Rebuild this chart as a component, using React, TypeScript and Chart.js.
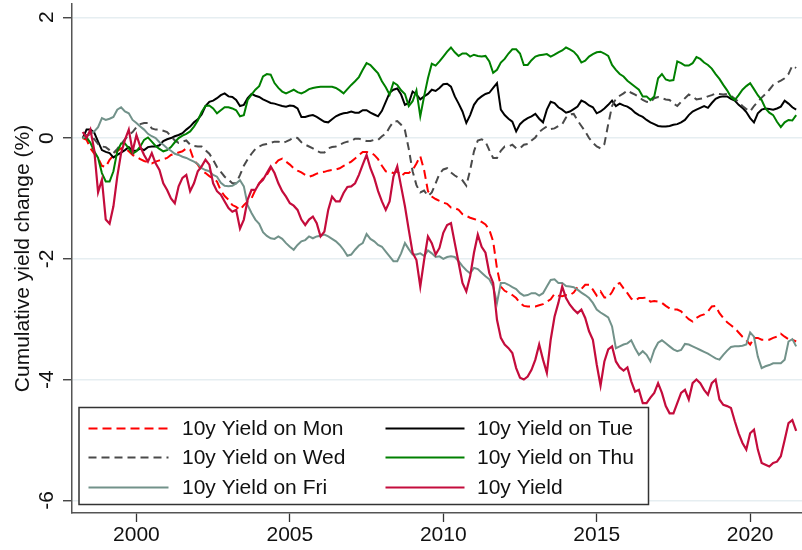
import React, { useEffect, useRef } from "react";
import { Chart, registerables } from "chart.js";

Chart.register(...registerables);

// observation dates (eighth-year steps), one row per calendar year
const dates: number[] = [
  1998.25, 1998.375, 1998.5, 1998.625, 1998.75, 1998.875,
  1999, 1999.125, 1999.25, 1999.375, 1999.5, 1999.625, 1999.75, 1999.875,
  2000, 2000.125, 2000.25, 2000.375, 2000.5, 2000.625, 2000.75, 2000.875,
  2001, 2001.125, 2001.25, 2001.375, 2001.5, 2001.625, 2001.75, 2001.875,
  2002, 2002.125, 2002.25, 2002.375, 2002.5, 2002.625, 2002.75, 2002.875,
  2003, 2003.125, 2003.25, 2003.375, 2003.5, 2003.625, 2003.75, 2003.875,
  2004, 2004.125, 2004.25, 2004.375, 2004.5, 2004.625, 2004.75, 2004.875,
  2005, 2005.125, 2005.25, 2005.375, 2005.5, 2005.625, 2005.75, 2005.875,
  2006, 2006.125, 2006.25, 2006.375, 2006.5, 2006.625, 2006.75, 2006.875,
  2007, 2007.125, 2007.25, 2007.375, 2007.5, 2007.625, 2007.75, 2007.875,
  2008, 2008.125, 2008.25, 2008.375, 2008.5, 2008.625, 2008.75, 2008.875,
  2009, 2009.125, 2009.25, 2009.375, 2009.5, 2009.625, 2009.75, 2009.875,
  2010, 2010.125, 2010.25, 2010.375, 2010.5, 2010.625, 2010.75, 2010.875,
  2011, 2011.125, 2011.25, 2011.375, 2011.5, 2011.625, 2011.75, 2011.875,
  2012, 2012.125, 2012.25, 2012.375, 2012.5, 2012.625, 2012.75, 2012.875,
  2013, 2013.125, 2013.25, 2013.375, 2013.5, 2013.625, 2013.75, 2013.875,
  2014, 2014.125, 2014.25, 2014.375, 2014.5, 2014.625, 2014.75, 2014.875,
  2015, 2015.125, 2015.25, 2015.375, 2015.5, 2015.625, 2015.75, 2015.875,
  2016, 2016.125, 2016.25, 2016.375, 2016.5, 2016.625, 2016.75, 2016.875,
  2017, 2017.125, 2017.25, 2017.375, 2017.5, 2017.625, 2017.75, 2017.875,
  2018, 2018.125, 2018.25, 2018.375, 2018.5, 2018.625, 2018.75, 2018.875,
  2019, 2019.125, 2019.25, 2019.375, 2019.5, 2019.625, 2019.75, 2019.875,
  2020, 2020.125, 2020.25, 2020.375, 2020.5, 2020.625, 2020.75, 2020.875,
  2021, 2021.125, 2021.25, 2021.375, 2021.5,
];

const yieldMon: number[] = [
  0, -0.03, -0.17, -0.26, -0.33, -0.46,
  -0.48, -0.36, -0.29, -0.22, -0.17, -0.17, -0.22, -0.28,
  -0.31, -0.35, -0.38, -0.4, -0.42, -0.39, -0.37, -0.35,
  -0.33, -0.28, -0.26, -0.24, -0.22, -0.17, -0.19, -0.37,
  -0.44, -0.54, -0.58, -0.63, -0.67, -0.72, -0.87, -0.96,
  -1.02, -1.11, -1.14, -1.19, -1.11, -1.05, -1.0, -0.86,
  -0.75, -0.67, -0.61, -0.5, -0.44, -0.37, -0.34, -0.39,
  -0.44, -0.5, -0.54, -0.57, -0.61, -0.64, -0.62, -0.59,
  -0.57, -0.56, -0.54, -0.53, -0.52, -0.5, -0.46, -0.43,
  -0.39, -0.34, -0.28, -0.23, -0.23, -0.24, -0.28, -0.35,
  -0.46, -0.55, -0.56, -0.58, -0.55, -0.63, -0.58, -0.58,
  -0.53, -0.42, -0.3, -0.53, -0.88, -0.97, -1.01, -1.04,
  -1.07, -1.09, -1.15, -1.16, -1.19, -1.26, -1.29, -1.32,
  -1.34, -1.36, -1.39, -1.43, -1.52, -1.71, -2.16, -2.46,
  -2.53, -2.56, -2.6, -2.65, -2.73, -2.78, -2.79, -2.79,
  -2.79, -2.77, -2.75, -2.71, -2.67, -2.58, -2.61, -2.62,
  -2.6, -2.6, -2.56, -2.47, -2.5, -2.43, -2.43, -2.51,
  -2.61, -2.54, -2.64, -2.64, -2.55, -2.43, -2.4, -2.49,
  -2.57, -2.66, -2.69, -2.65, -2.65, -2.64, -2.71, -2.7,
  -2.71, -2.73, -2.78, -2.82, -2.84, -2.84, -2.87, -2.94,
  -3.0, -3.04, -2.98, -2.94, -2.92, -2.87, -2.79, -2.78,
  -2.9, -2.98, -3.05, -3.1, -3.15, -3.22, -3.29, -3.35,
  -3.42, -3.31, -3.31, -3.34, -3.34, -3.34, -3.31, -3.29,
  -3.24, -3.29, -3.33, -3.34, -3.37,
];

const yieldTue: number[] = [
  0, 0.14, 0.14, 0.09, -0.06, -0.2,
  -0.23, -0.25, -0.32, -0.28, -0.24, -0.2, -0.15, -0.21,
  -0.21, -0.17, -0.2, -0.15, -0.14, -0.14, -0.12, -0.05,
  -0.02, 0.0, 0.03, 0.05, 0.08, 0.14, 0.19, 0.26,
  0.31, 0.39, 0.53, 0.6, 0.62, 0.66, 0.71, 0.74,
  0.69, 0.68, 0.63, 0.53, 0.55, 0.66, 0.73, 0.7,
  0.68, 0.64, 0.61, 0.58, 0.57, 0.55, 0.53, 0.52,
  0.54, 0.53, 0.49, 0.35, 0.35, 0.37, 0.38, 0.35,
  0.31, 0.27, 0.26, 0.31, 0.36, 0.39, 0.41, 0.42,
  0.44, 0.42, 0.42, 0.46, 0.46, 0.42, 0.39, 0.36,
  0.45, 0.6, 0.75, 0.8, 0.82, 0.72, 0.55, 0.58,
  0.77, 0.72, 0.64, 0.69, 0.73, 0.8, 0.78, 0.83,
  0.89, 0.9, 0.85, 0.69, 0.57, 0.44, 0.25, 0.38,
  0.55, 0.64, 0.69, 0.73, 0.75, 0.83, 0.91, 0.47,
  0.38, 0.32, 0.27, 0.11, 0.23, 0.29, 0.33, 0.36,
  0.4, 0.32, 0.26, 0.47, 0.6, 0.58, 0.51, 0.47,
  0.42, 0.44, 0.48, 0.52, 0.62, 0.59, 0.54, 0.51,
  0.41, 0.44, 0.49, 0.55, 0.62, 0.53, 0.57, 0.54,
  0.52, 0.48, 0.42, 0.38, 0.35, 0.3, 0.26, 0.23,
  0.2, 0.19, 0.19, 0.2, 0.22, 0.23, 0.26, 0.3,
  0.38, 0.44, 0.47, 0.5, 0.53, 0.5, 0.58, 0.65,
  0.68, 0.69, 0.69, 0.65, 0.62, 0.55, 0.5, 0.43,
  0.33, 0.26, 0.41, 0.47, 0.49, 0.48, 0.47, 0.49,
  0.52, 0.62, 0.57, 0.51, 0.47,
];

const yieldWed: number[] = [
  0, 0.05, 0.05, -0.02, -0.1, -0.14,
  -0.15, -0.2, -0.25, -0.18, -0.1, -0.02, 0.05, 0.1,
  0.18, 0.23, 0.25, 0.25, 0.16, 0.14, 0.14, 0.12,
  0.1, 0.03, -0.04, -0.08, -0.06, -0.04, -0.11, -0.13,
  -0.14, -0.14, -0.2, -0.26, -0.36, -0.48, -0.56, -0.64,
  -0.69, -0.75, -0.75, -0.61, -0.46, -0.35, -0.26, -0.18,
  -0.14, -0.11, -0.1, -0.08, -0.06, -0.06, -0.08, -0.06,
  -0.03, 0.01, 0.0, -0.07, -0.11, -0.14, -0.17, -0.21,
  -0.24, -0.24, -0.17, -0.15, -0.14, -0.11, -0.08, -0.06,
  -0.05, -0.01, -0.01, -0.03, -0.05, -0.05, -0.03, -0.03,
  0.03, 0.07, 0.18, 0.27, 0.28, 0.22, 0.13, -0.18,
  -0.55, -0.78, -0.9, -0.87, -0.96, -0.9, -0.75, -0.59,
  -0.52, -0.5, -0.57, -0.62, -0.66, -0.7, -0.79, -0.53,
  -0.22, -0.04, -0.02, -0.06, -0.2, -0.33, -0.33, -0.21,
  -0.14, -0.14, -0.11, -0.17, -0.17, -0.11, -0.1, -0.04,
  0.01, 0.1, 0.15, 0.19, 0.15, 0.16, 0.2, 0.23,
  0.34, 0.39, 0.4, 0.29, 0.2, 0.11, 0.0, -0.08,
  -0.14, -0.17, -0.1, 0.23, 0.53, 0.65, 0.7, 0.74,
  0.79, 0.75, 0.72, 0.68, 0.63, 0.6, 0.59, 0.66,
  0.68, 0.66, 0.64, 0.63, 0.57, 0.53, 0.6, 0.66,
  0.72, 0.69, 0.64, 0.65, 0.66, 0.69, 0.71, 0.74,
  0.73, 0.72, 0.73, 0.7, 0.65, 0.6, 0.53, 0.48,
  0.44, 0.53, 0.6, 0.67, 0.73, 0.8, 0.88, 0.92,
  0.95, 0.99, 1.06, 1.2, 1.16,
];

const yieldThu: number[] = [
  0, 0.01, -0.08, -0.22, -0.33, -0.58,
  -0.72, -0.72, -0.55, -0.22, -0.09, -0.09, -0.17, -0.26,
  -0.22, -0.14, -0.03, 0.01, -0.06, -0.13, -0.18, -0.22,
  -0.2, -0.15, -0.07, 0.0, 0.04, 0.07, 0.11, 0.19,
  0.29, 0.43, 0.53, 0.54, 0.49, 0.41, 0.46, 0.51,
  0.51, 0.49, 0.46, 0.36, 0.38, 0.63, 0.72, 0.8,
  0.86, 1.02, 1.06, 1.05, 0.91, 0.83, 0.77, 0.74,
  0.77, 0.8, 0.76, 0.74, 0.77, 0.81, 0.83, 0.84,
  0.85, 0.85, 0.85, 0.85, 0.83, 0.79, 0.74, 0.81,
  0.88, 0.94, 1.01, 1.13, 1.24, 1.21, 1.14, 1.07,
  0.94, 0.84, 0.72, 0.92, 0.88, 0.79, 0.73, 0.53,
  0.61, 0.79, 0.36, 0.69, 0.99, 1.23, 1.2, 1.27,
  1.35, 1.43, 1.5, 1.42, 1.36, 1.4, 1.4, 1.35,
  1.38, 1.36, 1.35, 1.36, 1.27, 1.08, 1.13, 1.25,
  1.31, 1.4, 1.47, 1.47, 1.4, 1.21, 1.21, 1.29,
  1.35, 1.37, 1.38, 1.39, 1.35, 1.38, 1.42, 1.45,
  1.5, 1.47, 1.43, 1.36, 1.25, 1.28, 1.35, 1.39,
  1.42, 1.43, 1.4, 1.36, 1.21, 1.13, 1.06, 1.02,
  0.95, 0.9, 0.85, 0.8, 0.69, 0.69, 0.63, 0.69,
  0.99, 1.06, 0.97, 0.95, 0.96, 1.27, 1.24, 1.2,
  1.2, 1.24, 1.34, 1.31, 1.25, 1.21, 1.15, 1.06,
  0.98, 0.88, 0.79, 0.68, 0.63, 0.71, 0.8, 0.86,
  0.91, 0.81, 0.71, 0.63, 0.49, 0.42, 0.38, 0.27,
  0.18, 0.26, 0.3, 0.29, 0.38,
];

const yieldFri: number[] = [
  0, 0.04, 0.07, 0.11, 0.18, 0.33,
  0.3, 0.32, 0.35, 0.47, 0.51, 0.44, 0.41, 0.3,
  0.25, 0.19, 0.14, 0.07, 0.03, 0.0, -0.07, -0.11,
  -0.17, -0.21, -0.26, -0.28, -0.31, -0.33, -0.36, -0.39,
  -0.43, -0.5, -0.53, -0.55, -0.61, -0.64, -0.74, -0.79,
  -0.8, -0.79, -0.75, -0.7, -0.8, -1.11, -1.24, -1.35,
  -1.42, -1.56, -1.62, -1.66, -1.67, -1.63, -1.67, -1.74,
  -1.8, -1.85, -1.77, -1.71, -1.69, -1.63, -1.66, -1.63,
  -1.62, -1.6, -1.63, -1.67, -1.71, -1.77, -1.85, -1.95,
  -1.93, -1.85, -1.78, -1.74, -1.59, -1.67, -1.71, -1.77,
  -1.8, -1.88, -1.96, -2.04, -2.04, -1.91, -1.74, -1.84,
  -1.93, -1.93, -1.91, -1.95, -1.86, -1.91, -1.97, -1.96,
  -2.0, -1.97, -1.96, -1.97, -2.04, -2.12, -2.19, -2.24,
  -2.15, -2.17, -2.23, -2.29, -2.34, -2.46, -2.73, -2.4,
  -2.4, -2.43, -2.47, -2.5, -2.57, -2.61, -2.6, -2.57,
  -2.57, -2.61, -2.57, -2.46, -2.35, -2.34, -2.4, -2.4,
  -2.45, -2.46, -2.47, -2.51, -2.56, -2.6, -2.65, -2.73,
  -2.84, -2.89, -2.93, -2.97, -3.12, -3.48, -3.45, -3.42,
  -3.4, -3.35, -3.48, -3.59, -3.53, -3.59, -3.7, -3.51,
  -3.39, -3.35, -3.4, -3.45, -3.5, -3.53, -3.51, -3.41,
  -3.42, -3.45, -3.48, -3.51, -3.54, -3.57, -3.61, -3.65,
  -3.67, -3.59, -3.52, -3.46, -3.45, -3.45, -3.44, -3.42,
  -3.22, -3.29, -3.62, -3.81, -3.78, -3.76, -3.73, -3.73,
  -3.73, -3.67, -3.37, -3.33, -3.45,
];

const yieldAll: number[] = [
  0.1, 0.0, 0.14, -0.2, -0.9, -0.69,
  -1.35, -1.42, -1.13, -0.64, -0.25, -0.03, 0.14, -0.22,
  0.05, -0.14, -0.28, -0.39, -0.25, -0.42, -0.53, -0.75,
  -0.86, -1.0, -1.08, -0.8, -0.66, -0.61, -0.88, -0.75,
  -0.55, -0.47, -0.36, -0.44, -0.75, -0.88, -0.94, -1.05,
  -1.16, -1.22, -1.19, -1.5, -1.35, -1.02, -0.86, -0.86,
  -0.75, -0.69, -0.58, -0.47, -0.58, -0.75, -0.88, -0.97,
  -1.08, -1.12, -1.19, -1.35, -1.44, -1.35, -1.3, -1.41,
  -1.63, -1.55, -1.19, -0.97, -1.05, -1.05, -0.91, -0.81,
  -0.8, -0.75, -0.61, -0.44, -0.28, -0.5, -0.66, -0.88,
  -1.05, -1.19, -1.05, -0.64, -0.47, -0.8, -1.13, -1.52,
  -1.9, -2.02, -2.46, -2.02, -1.63, -1.74, -1.93, -1.82,
  -1.57, -1.44, -1.41, -1.74, -2.07, -2.4, -2.54, -2.29,
  -1.9, -1.6, -1.8, -1.9, -2.24, -2.4, -3.01, -3.31,
  -3.42, -3.48, -3.56, -3.81, -3.97, -4.0, -3.95, -3.84,
  -3.67, -3.42, -3.67, -3.89, -3.34, -2.96, -2.73, -2.46,
  -2.65, -2.76, -2.84, -2.9, -2.84, -2.98, -3.2, -3.34,
  -3.75, -4.1, -3.7, -3.5, -3.45, -3.7, -3.8, -3.85,
  -3.8, -4.03, -4.2, -4.17, -4.39, -4.39, -4.3, -4.22,
  -4.06, -4.22, -4.44, -4.56, -4.56, -4.39, -4.22, -4.17,
  -4.33, -4.06, -4.0, -4.06, -4.17, -4.25, -4.06, -4.0,
  -4.33, -4.42, -4.44, -4.47, -4.69, -4.89, -5.05, -5.16,
  -4.89, -4.83, -5.16, -5.38, -5.41, -5.44, -5.38, -5.36,
  -5.27, -5.0, -4.72, -4.67, -4.85,
];

const xTickValues: number[] = [2000, 2005, 2010, 2015, 2020];
const yTickValues: number[] = [-6, -4, -2, 0, 2];

const seriesLabels: string[] = [
  "10y Yield on Mon",
  "10y Yield on Tue",
  "10y Yield on Wed",
  "10y Yield on Thu",
  "10y Yield on Fri",
  "10y Yield",
];
const seriesValues: number[][] = [yieldMon, yieldTue, yieldWed, yieldThu, yieldFri, yieldAll];
const seriesColors: string[] = ["#ff0000", "#000000", "#4a4a4a", "#008000", "#72928a", "#c40c3c"];
const seriesDash: number[][] = [[9, 5], [], [8, 5], [], [], []];

const FONT = '"Liberation Sans", Arial, sans-serif';

const legendPlugin = {
  id: "boxLegend",
  afterDatasetsDraw(chart: any) {
    const ctx = chart.ctx;
    const boxL = 79, boxT = 407.5, boxR = 648.5, boxB = 504.5;
    ctx.save();
    ctx.fillStyle = "#ffffff";
    ctx.fillRect(boxL, boxT, boxR - boxL, boxB - boxT);
    ctx.strokeStyle = "#333333";
    ctx.lineWidth = 1.5;
    ctx.setLineDash([]);
    ctx.strokeRect(boxL, boxT, boxR - boxL, boxB - boxT);
    const cols = [
      { lx0: 88.5, lx1: 168.5, tx: 182 },
      { lx0: 385.5, lx1: 464.5, tx: 477 },
    ];
    const rows = [428.5, 457.5, 487.5];
    ctx.font = `21px ${FONT}`;
    ctx.textBaseline = "middle";
    ctx.textAlign = "left";
    chart.data.datasets.forEach((ds: any, i: number) => {
      const c = cols[i % 2];
      const y = rows[Math.floor(i / 2)];
      ctx.beginPath();
      ctx.strokeStyle = ds.borderColor;
      ctx.lineWidth = 2;
      ctx.setLineDash(ds.borderDash || []);
      ctx.moveTo(c.lx0, y);
      ctx.lineTo(c.lx1, y);
      ctx.stroke();
      ctx.setLineDash([]);
      ctx.fillStyle = "#111111";
      ctx.fillText(ds.label, c.tx, y + 1);
    });
    ctx.restore();
  },
};

export default function App() {
  const canvasRef = useRef<HTMLCanvasElement | null>(null);

  useEffect(() => {
    const canvas = canvasRef.current;
    if (!canvas) return;
    Chart.defaults.font.family = FONT;
    Chart.defaults.font.size = 21;
    Chart.defaults.color = "#111111";

    const datasets = seriesLabels.map((label, i) => ({
      label,
      data: dates.map((d, j) => ({ x: d, y: seriesValues[i][j] })),
      borderColor: seriesColors[i],
      backgroundColor: seriesColors[i],
      borderWidth: i === 5 ? 2.2 : 2,
      borderDash: seriesDash[i],
      pointRadius: 0,
      fill: false,
      tension: 0,
      order: 5 - i,
    }));

    const chart = new Chart(canvas, {
      type: "line",
      data: { datasets },
      plugins: [legendPlugin],
      options: {
        animation: false,
        responsive: false,
        devicePixelRatio: 1,
        parsing: false,
        normalized: true,
        layout: { padding: { top: 4, left: 0, right: 0, bottom: 0 } },
        plugins: {
          legend: { display: false },
          tooltip: { enabled: false },
        },
        scales: {
          x: {
            type: "linear",
            min: 1997.9,
            max: 2021.69,
            afterBuildTicks: (s: any) => {
              s.ticks = xTickValues.map((v) => ({ value: v }));
            },
            afterFit: (s: any) => {
              s.height = 37;
              s.paddingLeft = 0;
              s.paddingRight = 0;
            },
            grid: {
              drawOnChartArea: false,
              drawTicks: true,
              tickLength: 9,
              tickColor: "#333333",
              tickWidth: 1.3,
            },
            border: { display: true, color: "#555555", width: 1.5 },
            ticks: {
              color: "#111111",
              font: { size: 21 },
              padding: 1,
              maxRotation: 0,
              minRotation: 0,
              autoSkip: false,
              callback: (v: any) => String(v),
            },
          },
          y: {
            type: "linear",
            min: -6.21,
            max: 2.22,
            afterBuildTicks: (s: any) => {
              s.ticks = yTickValues.map((v) => ({ value: v }));
            },
            afterFit: (s: any) => {
              s.width = 72;
              s.paddingTop = 0;
              s.paddingBottom = 0;
            },
            grid: {
              color: "#e6eef1",
              lineWidth: 1.5,
              drawTicks: true,
              tickLength: 9,
              tickColor: "#333333",
              tickWidth: 1.3,
            },
            border: { display: true, color: "#555555", width: 1.5 },
            ticks: {
              color: "#111111",
              font: { size: 21 },
              padding: 6,
              minRotation: 90,
              maxRotation: 90,
              crossAlign: "center",
              autoSkip: false,
              callback: (v: any) => String(v),
            },
            title: {
              display: true,
              text: "Cumulative yield change (%)",
              color: "#111111",
              font: { size: 21 },
              padding: { top: 11, bottom: 0 },
            },
          },
        },
      } as any,
    });

    return () => {
      chart.destroy();
    };
  }, []);

  return (
    <div style={{ position: "absolute", left: 0, top: 0, width: 802, height: 550, background: "#ffffff" }}>
      <canvas ref={canvasRef} width={802} height={550} style={{ width: 802, height: 550, display: "block" }} />
    </div>
  );
}
